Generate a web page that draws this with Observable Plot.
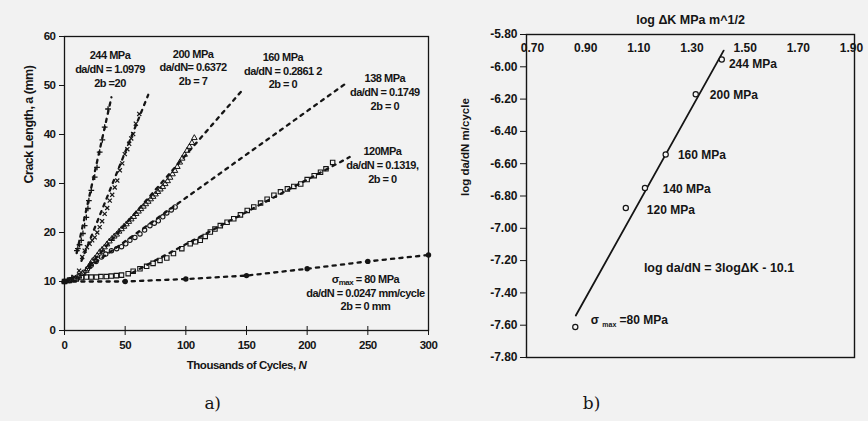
<!DOCTYPE html>
<html>
<head>
<meta charset="utf-8">
<script src="https://cdn.jsdelivr.net/npm/d3@7"></script>
<script src="https://cdn.jsdelivr.net/npm/@observablehq/plot@0.6"></script>
<style>
  html, body { margin: 0; padding: 0; background: #f2f2f2; }
  #wrap { position: relative; width: 868px; height: 421px; overflow: hidden; }
  #wrap svg { position: absolute; top: 0; }
  .lbl text { letter-spacing: -0.5px; }
</style>
</head>
<body>
<div id="wrap"></div>
<script>
// ---------- Panel a) : crack length vs thousands of cycles ----------
const xTicksA = [0, 50, 100, 150, 200, 250, 300];
const yTicksA = [0, 10, 20, 30, 40, 50, 60];

// 244 MPa (plus markers)
const n244 = [0, 3, 6, 10.2, 11.0, 12.4, 13.8, 15.2, 16.6, 18.0, 19.3, 20.1, 22.1, 24.9, 26.8, 29.0, 31.2, 33.1, 35.9];
const a244 = [10.0, 10.3, 10.8, 16.3, 16.7, 17.5, 18.4, 19.8, 21.4, 23.1, 24.9, 26.5, 28.6, 31.3, 33.3, 36.4, 38.9, 41.5, 45.2];
const fit244N = [10, 38.7];
const fit244A = [15.8, 47.6];

// 200 MPa (x markers)
const n200 = [0, 4, 8, 12, 14.6, 16.6, 18.5, 20.7, 22.8, 24.9, 27.0, 29.0, 31.0, 33.1, 35.2, 37.3, 39.3, 41.4, 43.5, 45.6, 47.6, 49.7, 51.8, 53.3, 55.0, 56.6, 58.8, 61.6];
const a200 = [10.0, 10.3, 10.9, 12.2, 15.0, 16.3, 17.0, 17.7, 18.4, 19.0, 20.0, 21.1, 22.3, 23.8, 25.0, 26.5, 27.7, 29.2, 30.6, 32.7, 34.1, 36.0, 37.0, 38.1, 39.2, 40.1, 42.2, 44.2];
const fit200N = [14, 69];
const fit200A = [14.2, 48.1];

// 160 MPa (small open triangles)
const n160 = [0, 3, 6, 9, 12, 15, 18, 20, 21.5, 23, 25, 27, 29, 31, 33, 35, 37, 39, 41, 43, 45, 47, 49, 51, 53, 55, 57, 59, 61, 63, 65, 67, 69, 71, 73, 75, 77, 79, 81, 83, 85, 87, 89, 91, 93, 95, 97, 99, 101, 103, 105, 107];
const a160 = [10.0, 10.1, 10.3, 10.6, 11.0, 11.6, 12.2, 13.0, 13.6, 14.2, 14.7, 15.3, 16.0, 16.5, 17.0, 17.6, 18.2, 18.7, 19.2, 19.6, 20.2, 20.7, 21.2, 21.7, 22.2, 22.7, 23.2, 23.8, 24.3, 24.8, 25.3, 25.8, 26.3, 26.8, 27.3, 27.8, 28.3, 28.8, 29.3, 29.9, 30.5, 31.2, 31.9, 32.6, 33.4, 34.3, 35.1, 35.9, 36.7, 37.5, 38.3, 39.3];
const fit160N = [20.7, 146.4];
const fit160A = [13.3, 49.0];

// 138 MPa (open circles)
const n138 = [0, 4, 8, 12, 16, 19, 22, 26, 30.4, 34, 38.7, 43, 47, 50.5, 53.9, 58, 62.2, 66, 70.4, 74, 77.3, 81, 84.3, 88, 91.2];
const a138 = [10.0, 10.2, 10.6, 11.2, 11.9, 12.6, 13.3, 14.1, 15.0, 15.6, 16.3, 16.7, 17.1, 17.7, 18.4, 19.0, 19.7, 20.5, 21.4, 21.9, 22.4, 23.2, 24.0, 24.6, 25.2];
const fit138N = [20, 230.6];
const fit138A = [12.9, 50.2];

// 120 MPa (open squares)
const n120 = [0, 4, 9.7, 14, 18, 22, 26.3, 30, 34.5, 38.5, 42.8, 47, 52.5, 56.6, 62.2, 67.7, 73, 78.7, 84.3, 89.8, 96.7, 103.6, 108, 111.9, 116, 120.2, 124, 128.4, 134, 139.5, 145, 150.6, 156, 161.6, 167, 172.6, 178, 183.7, 189, 194.7, 200, 205.8, 211, 215.5, 221];
const a120 = [10.0, 10.2, 10.5, 10.8, 10.9, 10.9, 10.9, 11.0, 11.0, 11.1, 11.2, 11.3, 11.6, 12.1, 12.6, 13.1, 13.7, 14.3, 14.8, 15.7, 16.7, 17.7, 18.1, 18.4, 19.2, 20.1, 20.7, 21.4, 22.1, 22.8, 23.6, 24.5, 25.2, 26.0, 26.8, 27.6, 28.3, 28.9, 29.4, 29.9, 30.8, 31.6, 32.3, 33.0, 34.3];
const fit120N = [56, 235];
const fit120A = [11.8, 35.4];

// 80 MPa (filled circles)
const n80 = [0, 50, 100, 150, 200, 250, 300];
const a80 = [10.0, 10.0, 10.5, 11.2, 12.6, 14.1, 15.4];

// annotation blocks (text, anchor in data units)
const noteTextA = [
  "244 MPa\nda/dN = 1.0979\n2b =20",
  "200 MPa\nda/dN= 0.6372\n2b = 7",
  "160 MPa\nda/dN = 0.2861 2\n2b = 0",
  "138 MPa\nda/dN = 0.1749\n2b = 0",
  "120MPa\nda/dN = 0.1319,\n2b = 0",
  "σmax = 80 MPa\nda/dN = 0.0247 mm/cycle\n2b = 0 mm"
];
const noteNA = [37.5, 106, 180, 264, 262, 248];
const noteAA = [53.4, 53.8, 53.1, 48.8, 33.9, 7.8];

// ---------- Panel b) : log da/dN vs log dK ----------
const xTicksB = [0.70, 0.90, 1.10, 1.30, 1.50, 1.70, 1.90];
const yTicksB = [-5.80, -6.00, -6.20, -6.40, -6.60, -6.80, -7.00, -7.20, -7.40, -7.60, -7.80];
const stressB = ["244 MPa", "200 MPa", "160 MPa", "140 MPa", "120 MPa", "σmax =80 MPa"];
const logDK = [1.412, 1.314, 1.201, 1.123, 1.051, 0.861];
const logDadN = [-5.955, -6.170, -6.543, -6.750, -6.874, -7.611];
const labelXB = [1.439, 1.367, 1.247, 1.190, 1.130, 0.919];
const labelYB = [-5.975, -6.171, -6.543, -6.754, -6.884, -7.561];
const fitXB = [0.863, 1.419];
const fitYB = [-7.54, -5.90];
const equationB = "log da/dN = 3logΔK - 10.1";
const equationXB = 1.119, equationYB = -7.244;

// ---------- build tables ----------
const zipNA = (n, a) => n.map((v, i) => ({N: v, a: a[i]}));
const font = "'Liberation Sans', Arial, Helvetica, sans-serif";
const ink = "#151515";
const dotted = {stroke: ink, strokeWidth: 2.3, strokeDasharray: "3.2,5.2", x: "N", y: "a"};

const fits = [
  zipNA(fit244N, fit244A), zipNA(fit200N, fit200A), zipNA(fit160N, fit160A),
  zipNA(fit138N, fit138A), zipNA(fit120N, fit120A), zipNA(n80, a80)
];
const notes = noteTextA.map((t, i) => ({t, N: noteNA[i], a: noteAA[i]}));

const left = Plot.plot({
  width: 440, height: 421,
  marginLeft: 64, marginRight: 12, marginTop: 36, marginBottom: 91,
  x: {domain: [0, 300]},
  y: {domain: [0, 60]},
  style: {background: "transparent", fontFamily: font, color: ink, fontSize: "12px"},
  marks: [
    Plot.frame({stroke: ink, strokeWidth: 1.3}),
    Plot.axisY(yTicksA, {tickSize: 5, tickPadding: 4, label: null, fontSize: 11.5, fontWeight: "bold", stroke: ink}),
    Plot.axisX(xTicksA, {tickSize: 5, tickPadding: 5, label: null, fontSize: 11.5, fontWeight: "bold", stroke: ink}),
    Plot.axisX(xTicksA, {tickSize: -4, text: null, label: null, stroke: ink}),
    ...fits.map(f => Plot.line(f, dotted)),
    Plot.dot(zipNA(n244, a244), {x: "N", y: "a", symbol: "plus", r: 2, stroke: ink, strokeWidth: 1.3}),
    Plot.dot(zipNA(n200, a200), {x: "N", y: "a", symbol: "times", r: 2, stroke: ink, strokeWidth: 1.2}),
    Plot.dot(zipNA(n160, a160), {x: "N", y: "a", symbol: "triangle", r: 2.1, stroke: ink, strokeWidth: 1, fill: "none"}),
    Plot.dot(zipNA(n138, a138), {x: "N", y: "a", symbol: "circle", r: 2.2, stroke: ink, strokeWidth: 1.1, fill: "none"}),
    Plot.dot(zipNA(n120, a120), {x: "N", y: "a", symbol: "square", r: 2.5, stroke: ink, strokeWidth: 1.1, fill: "none"}),
    Plot.dot(zipNA(n80, a80), {x: "N", y: "a", symbol: "circle", r: 2.7, fill: ink}),
    Plot.text(notes, {x: "N", y: "a", text: "t", fontSize: 11, fontWeight: "bold", lineHeight: 1.25, fill: ink}),
    Plot.text(["Crack Length, a (mm)"], {frameAnchor: "left", dx: -36, rotate: -90, fontWeight: "bold", fontSize: 12.5, fill: ink}),
    Plot.text(["Thousands of Cycles, N"], {frameAnchor: "bottom", dy: 38, fontWeight: "bold", fontSize: 11.5, fill: ink}),
    Plot.text(["a)"], {frameAnchor: "bottom", dx: -34, dy: 78, fontSize: 17, fontFamily: "'DejaVu Serif', serif", fill: ink})
  ]
});

const ptsB = stressB.map((s, i) => ({s, x: logDK[i], y: logDadN[i], lx: labelXB[i], ly: labelYB[i]}));
const right = Plot.plot({
  width: 428, height: 421,
  marginLeft: 86, marginRight: 14, marginTop: 34, marginBottom: 64,
  x: {domain: [0.70, 1.90], insetLeft: 6, insetRight: 3},
  y: {domain: [-7.80, -5.80]},
  style: {background: "transparent", fontFamily: font, color: ink, fontSize: "12px", fontWeight: "bold"},
  marks: [
    Plot.frame({stroke: ink, strokeWidth: 1.4}),
    Plot.axisY(yTicksB, {tickSize: 6, tickPadding: 3, tickFormat: d => d.toFixed(2), label: null, fontSize: 12, fontWeight: "bold", stroke: ink}),
    Plot.axisX(xTicksB, {anchor: "top", tickSize: 0, tickPadding: -17, tickFormat: d => d.toFixed(2), label: null, fontSize: 12, fontWeight: "bold"}),
    Plot.line(fitXB.map((v, i) => ({x: v, y: fitYB[i]})), {x: "x", y: "y", stroke: ink, strokeWidth: 1.8}),
    Plot.dot(ptsB, {x: "x", y: "y", r: 2.6, stroke: ink, strokeWidth: 1.2, fill: "#f6f6f6"}),
    Plot.text(ptsB, {x: "lx", y: "ly", text: "s", textAnchor: "start", dy: 1, fontSize: 12, fontWeight: "bold", fill: ink}),
    Plot.text([equationB], {x: equationXB, y: equationYB, textAnchor: "start", fontSize: 12.5, fontWeight: "bold", fill: ink}),
    Plot.text(["log ΔK MPa m^1/2"], {frameAnchor: "top", dy: -19, fontSize: 12.5, fontWeight: "bold", fill: ink}),
    Plot.text(["log da/dN m/cycle"], {frameAnchor: "left", dx: -61, rotate: -90, fontSize: 11.5, fontWeight: "bold", fill: ink}),
    Plot.text(["b)"], {frameAnchor: "bottom", dx: -99, dy: 51, fontSize: 17, fontWeight: "normal", fontFamily: "'DejaVu Serif', serif", fill: ink})
  ]
});

left.style.left = "0px";
right.style.left = "440px";
left.classList.add("lbl");
const wrap = document.getElementById("wrap");
wrap.appendChild(left);
wrap.appendChild(right);

// rich text tweaks: subscripts and italics
function richify(svg, plain, html) {
  svg.querySelectorAll("text, tspan").forEach(el => {
    if (el.children.length === 0 && el.textContent === plain) el.innerHTML = html;
  });
}
richify(left, "σmax = 80 MPa", 'σ<tspan font-size="8" dy="2">max</tspan><tspan dy="-2"> = 80 MPa</tspan>');
richify(left, "Thousands of Cycles, N", 'Thousands of Cycles, <tspan font-style="italic">N</tspan>');
richify(right, "σmax =80 MPa", 'σ <tspan font-size="7" dy="3">max</tspan><tspan dy="-3"> =80 MPa</tspan>');
</script>
</body>
</html>
